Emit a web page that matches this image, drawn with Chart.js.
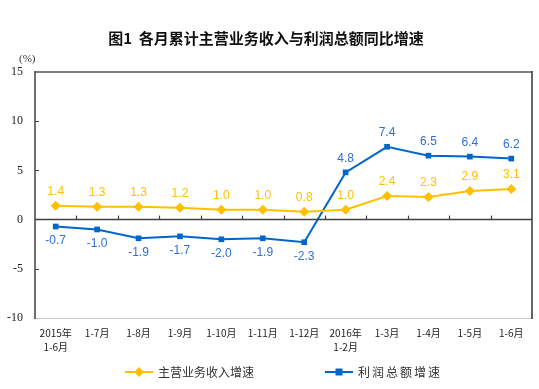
<!DOCTYPE html>
<html><head><meta charset="utf-8">
<script src="https://cdn.jsdelivr.net/npm/chart.js@4"></script>
<style>html,body{margin:0;padding:0;background:#fff;}#wrap{width:539px;height:389px;position:relative;}</style>
</head><body><div id="wrap"><canvas id="c" width="539" height="389"></canvas></div>
<script>
const categories = [["2015年","1-6月"],"1-7月","1-8月","1-9月","1-10月","1-11月","1-12月",["2016年","1-2月"],"1-3月","1-4月","1-5月","1-6月"];
const revenueGrowth = [1.4,1.3,1.3,1.2,1.0,1.0,0.8,1.0,2.4,2.3,2.9,3.1];
const profitGrowth = [-0.7,-1.0,-1.9,-1.7,-2.0,-1.9,-2.3,4.8,7.4,6.5,6.4,6.2];
const seriesNames = ["主营业务收入增速","利润总额增速"];
const yMin = -10, yMax = 15, yStep = 5;

const YELLOW = '#FFC000', BLUE = '#0066CC', BLUE_TXT = '#2F6FD3';
const CJK = '"Noto Sans CJK SC", "Noto Sans", sans-serif';

const framePlugin = {
  id: 'frame',
  afterDatasetsDraw(chart) {
    const {ctx, chartArea: a, scales: {x, y}} = chart;
    ctx.save();
    ctx.lineCap = 'butt';
    ctx.strokeStyle = '#808080'; ctx.lineWidth = 2;
    ctx.beginPath(); ctx.moveTo(a.left, a.top); ctx.lineTo(a.right, a.top); ctx.stroke();
    ctx.strokeStyle = '#c8c8c8'; ctx.lineWidth = 1;
    ctx.beginPath(); ctx.moveTo(a.left, a.bottom + 0.5); ctx.lineTo(a.right, a.bottom + 0.5); ctx.stroke();
    ctx.strokeStyle = '#404040'; ctx.lineWidth = 1.5;
    ctx.beginPath(); ctx.moveTo(a.left, a.top - 1); ctx.lineTo(a.left, a.bottom + 1); ctx.stroke();
    ctx.strokeStyle = '#333'; ctx.lineWidth = 1.5;
    ctx.beginPath(); ctx.moveTo(a.right, a.top - 1); ctx.lineTo(a.right, a.bottom + 1); ctx.stroke();
    ctx.strokeStyle = '#404040'; ctx.lineWidth = 1;
    for (let v = yMin + yStep; v < yMax; v += yStep) {
      if (v === 0) continue;
      const py = Math.round(y.getPixelForValue(v)) + 0.5;
      ctx.beginPath(); ctx.moveTo(a.left, py); ctx.lineTo(a.left + 4, py); ctx.stroke();
    }
    const zy = y.getPixelForValue(0);
    ctx.strokeStyle = '#404040'; ctx.lineWidth = 1.5;
    ctx.beginPath(); ctx.moveTo(a.left, zy); ctx.lineTo(a.right, zy); ctx.stroke();
    ctx.lineWidth = 1.2;
    for (let i = 1; i < categories.length; i++) {
      const px = Math.round((x.getPixelForValue(i - 1) + x.getPixelForValue(i)) / 2) + 0.5;
      ctx.beginPath(); ctx.moveTo(px, zy); ctx.lineTo(px, zy - 4); ctx.stroke();
    }
    ctx.fillStyle = '#333'; ctx.font = '11px "Liberation Serif", serif';
    ctx.textAlign = 'left'; ctx.textBaseline = 'middle';
    ctx.fillText('(%)', 19, a.top - 13);
    ctx.restore();
  }
};

const labelPlugin = {
  id: 'vlabels',
  afterDraw(chart) {
    const {ctx} = chart;
    ctx.save();
    ctx.font = '12px "Liberation Sans", Arial, sans-serif';
    ctx.textAlign = 'center'; ctx.textBaseline = 'middle';
    chart.data.datasets.forEach((ds, di) => {
      const meta = chart.getDatasetMeta(di);
      ctx.fillStyle = di === 0 ? YELLOW : BLUE_TXT;
      meta.data.forEach((pt, i) => {
        const v = ds.data[i];
        const dy = (di === 1 && v < 0) ? 14 : -14;
        ctx.fillText(v.toFixed(1), pt.x, pt.y + dy);
      });
    });
    ctx.restore();
  }
};

const legendPlugin = {
  id: 'customLegend',
  afterDraw(chart) {
    const {ctx, chartArea: a} = chart;
    ctx.save();
    ctx.font = '12px ' + CJK;
    const lineW = 28, gapText = 5, gapItems = 71;
    const spacing = [0, 2];
    const widths = chart.data.datasets.map((ds, i) => {
      ctx.letterSpacing = spacing[i] + 'px';
      return ctx.measureText(ds.label).width;
    });
    const total = widths.reduce((s, w) => s + lineW + gapText + w, 0) + gapItems;
    let xPos = (a.left + a.right) / 2 - total / 2;
    const yPos = chart.height - 17;
    chart.data.datasets.forEach((ds, i) => {
      ctx.strokeStyle = ds.borderColor; ctx.lineWidth = 2;
      ctx.beginPath(); ctx.moveTo(xPos, yPos); ctx.lineTo(xPos + lineW, yPos); ctx.stroke();
      const cx = xPos + lineW / 2;
      ctx.fillStyle = ds.borderColor;
      ctx.beginPath();
      if (i === 0) {
        ctx.moveTo(cx, yPos - 5); ctx.lineTo(cx + 5, yPos); ctx.lineTo(cx, yPos + 5); ctx.lineTo(cx - 5, yPos); ctx.closePath();
      } else {
        ctx.rect(cx - 3.5, yPos - 3.5, 7, 7);
      }
      ctx.fill();
      ctx.fillStyle = '#333';
      ctx.letterSpacing = spacing[i] + 'px';
      ctx.textAlign = 'left'; ctx.textBaseline = 'middle';
      ctx.fillText(ds.label, xPos + lineW + gapText, yPos);
      xPos += lineW + gapText + widths[i] + gapItems;
    });
    ctx.restore();
  }
};

new Chart(document.getElementById('c'), {
  type: 'line',
  data: {
    labels: categories,
    datasets: [
      { label: seriesNames[0], data: revenueGrowth, borderColor: YELLOW, backgroundColor: YELLOW,
        borderWidth: 2, pointStyle: 'rectRot', pointRadius: 5, pointBorderWidth: 0, tension: 0 },
      { label: seriesNames[1], data: profitGrowth, borderColor: BLUE, backgroundColor: BLUE,
        borderWidth: 2, pointStyle: 'rect', pointRadius: 4, pointBorderWidth: 0, tension: 0 }
    ]
  },
  options: {
    responsive: false, animation: false, devicePixelRatio: 1,
    layout: { padding: { left: 0, right: 7, top: 0, bottom: 26 } },
    plugins: {
      legend: { display: false },
      tooltip: { enabled: false },
      title: { display: true, text: '图1  各月累计主营业务收入与利润总额同比增速', color: '#111',
        font: { family: CJK, size: 15, weight: 'bold', lineHeight: 1.2 }, padding: { top: 29, bottom: 25 } }
    },
    scales: {
      x: {
        offset: true,
        grid: { display: false }, border: { display: false },
        ticks: { color: '#222', padding: 0, maxRotation: 0, autoSkip: false,
          font: { family: CJK, size: 10, lineHeight: 1.4 } },
        afterFit(s) { s.height = 45; }
      },
      y: {
        min: yMin, max: yMax,
        grid: { display: false }, border: { display: false },
        ticks: { stepSize: yStep, color: '#222', padding: 4,
          font: { family: '"Liberation Serif", serif', size: 12 } },
        afterFit(s) { s.width = 35; }
      }
    }
  },
  plugins: [framePlugin, labelPlugin, legendPlugin]
});
</script></body></html>
